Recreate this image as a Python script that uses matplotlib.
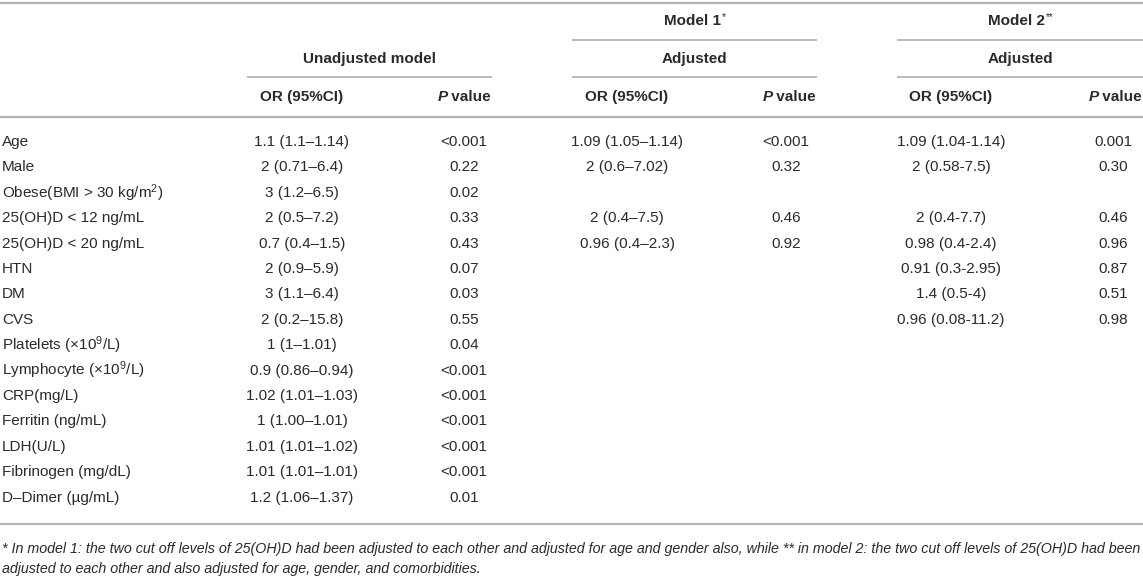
import matplotlib
matplotlib.use("Agg")
import matplotlib.pyplot as plt

plt.rcParams['font.family'] = ['Liberation Sans', 'DejaVu Sans']
plt.rcParams['mathtext.fontset'] = 'custom'
plt.rcParams['mathtext.rm'] = 'Liberation Sans'
plt.rcParams['mathtext.it'] = 'Liberation Sans:italic'
plt.rcParams['mathtext.bf'] = 'Liberation Sans:bold'

# variabile si valori din tabel
variabile = [
    "Age", "Male", r"Obese(BMI > 30 kg/m$^2$)", "25(OH)D < 12 ng/mL",
    "25(OH)D < 20 ng/mL", "HTN", "DM", "CVS", r"Platelets (×10$^9$/L)",
    r"Lymphocyte (×10$^9$/L)", "CRP(mg/L)", "Ferritin (ng/mL)", "LDH(U/L)",
    "Fibrinogen (mg/dL)", "D–Dimer (µg/mL)",
]
or_neajustat = [
    "1.1 (1.1–1.14)", "2 (0.71–6.4)", "3 (1.2–6.5)", "2 (0.5–7.2)",
    "0.7 (0.4–1.5)", "2 (0.9–5.9)", "3 (1.1–6.4)", "2 (0.2–15.8)",
    "1 (1–1.01)", "0.9 (0.86–0.94)", "1.02 (1.01–1.03)", "1 (1.00–1.01)",
    "1.01 (1.01–1.02)", "1.01 (1.01–1.01)", "1.2 (1.06–1.37)",
]
p_neajustat = [
    "<0.001", "0.22", "0.02", "0.33", "0.43", "0.07", "0.03", "0.55",
    "0.04", "<0.001", "<0.001", "<0.001", "<0.001", "<0.001", "0.01",
]
or_model1 = ["1.09 (1.05–1.14)", "2 (0.6–7.02)", "", "2 (0.4–7.5)",
             "0.96 (0.4–2.3)"] + [""] * 10
p_model1 = ["<0.001", "0.32", "", "0.46", "0.92"] + [""] * 10
or_model2 = ["1.09 (1.04-1.14)", "2 (0.58-7.5)", "", "2 (0.4-7.7)",
             "0.98 (0.4-2.4)", "0.91 (0.3-2.95)", "1.4 (0.5-4)",
             "0.96 (0.08-11.2)"] + [""] * 7
p_model2 = ["0.001", "0.30", "", "0.46", "0.96", "0.87", "0.51",
            "0.98"] + [""] * 7

nota = ("* In model 1: the two cut off levels of 25(OH)D had been adjusted to each other "
        "and adjusted for age and gender also, while ** in model 2: the two cut off levels "
        "of 25(OH)D had been",
        "adjusted to each other and also adjusted for age, gender, and comorbidities.")

W, H = 1143, 579
fig = plt.figure(figsize=(W / 100, H / 100), dpi=100)
ax = fig.add_axes([0, 0, 1, 1])
ax.set_xlim(0, W)
ax.set_ylim(H, 0)
ax.axis('off')

culoare_text = '#2a2a2a'
culoare_linie = '#b4b4b4'
fs = 11

# grupe de coloane: (start linie, sfarsit linie, centru OR, centru P)
grupe = [(247, 492, 302, 464), (572, 817, 627, 786), (897, 1143, 951, 1113)]

renderer = fig.canvas.get_renderer()


def latime(t):
    return t.get_window_extent(renderer).width


def text_p_value(x_dreapta, y):
    t = ax.text(x_dreapta, y, " value", ha='right', va='center', fontsize=fs,
                fontweight='bold', color=culoare_text)
    w = latime(t)
    ax.text(x_dreapta - w, y, "P", ha='right', va='center', fontsize=fs,
            fontweight='bold', style='italic', color=culoare_text)


def titlu_cu_stea(x_centru, y, titlu, stea):
    t = ax.text(0, y, titlu, ha='left', va='center', fontsize=fs,
                fontweight='bold', color=culoare_text)
    s = ax.text(0, y - 4, stea, ha='left', va='center', fontsize=7,
                color=culoare_text)
    w1, w2 = latime(t), latime(s)
    x0 = x_centru - (w1 + w2) / 2
    t.set_x(x0)
    s.set_x(x0 + w1 + 1)


# linii orizontale
ax.plot([0, W], [3, 3], color=culoare_linie, lw=1.6, solid_capstyle='butt')
ax.plot([0, W], [117, 117], color=culoare_linie, lw=1.6, solid_capstyle='butt')
ax.plot([0, W], [524, 524], color=culoare_linie, lw=1.6, solid_capstyle='butt')
for i, (x1, x2, xo, xp) in enumerate(grupe):
    ax.plot([x1, x2], [77, 77], color=culoare_linie, lw=1.3, solid_capstyle='butt')
    if i > 0:
        ax.plot([x1, x2], [40, 40], color=culoare_linie, lw=1.3, solid_capstyle='butt')

# antet
ax.text((grupe[0][0] + grupe[0][1]) / 2, 59, "Unadjusted model", ha='center',
        va='center', fontsize=fs, fontweight='bold', color=culoare_text)
titlu_cu_stea((grupe[1][0] + grupe[1][1]) / 2, 21, "Model 1", "*")
titlu_cu_stea((grupe[2][0] + grupe[2][1]) / 2, 21, "Model 2", "**")
for x1, x2, xo, xp in grupe[1:]:
    ax.text((x1 + x2) / 2, 59, "Adjusted", ha='center', va='center',
            fontsize=fs, fontweight='bold', color=culoare_text)
for x1, x2, xo, xp in grupe:
    ax.text(xo, 97, "OR (95%CI)", ha='center', va='center', fontsize=fs,
            fontweight='bold', color=culoare_text)
    text_p_value(x2 - 1, 97)

# randuri
coloane = [(or_neajustat, p_neajustat), (or_model1, p_model1), (or_model2, p_model2)]
y0, pas = 142, 25.4
for i, nume in enumerate(variabile):
    y = y0 + i * pas
    ax.text(2, y, nume, ha='left', va='center', fontsize=fs, color=culoare_text)
    for (x1, x2, xo, xp), (col_or, col_p) in zip(grupe, coloane):
        if col_or[i]:
            ax.text(xo, y, col_or[i], ha='center', va='center', fontsize=fs,
                    color=culoare_text)
        if col_p[i]:
            ax.text(xp, y, col_p[i], ha='center', va='center', fontsize=fs,
                    color=culoare_text)

# nota de subsol
ax.text(2, 549, nota[0], ha='left', va='center', fontsize=10.3, style='italic',
        color=culoare_text)
ax.text(2, 569, nota[1], ha='left', va='center', fontsize=10.3, style='italic',
        color=culoare_text)

fig.savefig("out.png", dpi=100)
